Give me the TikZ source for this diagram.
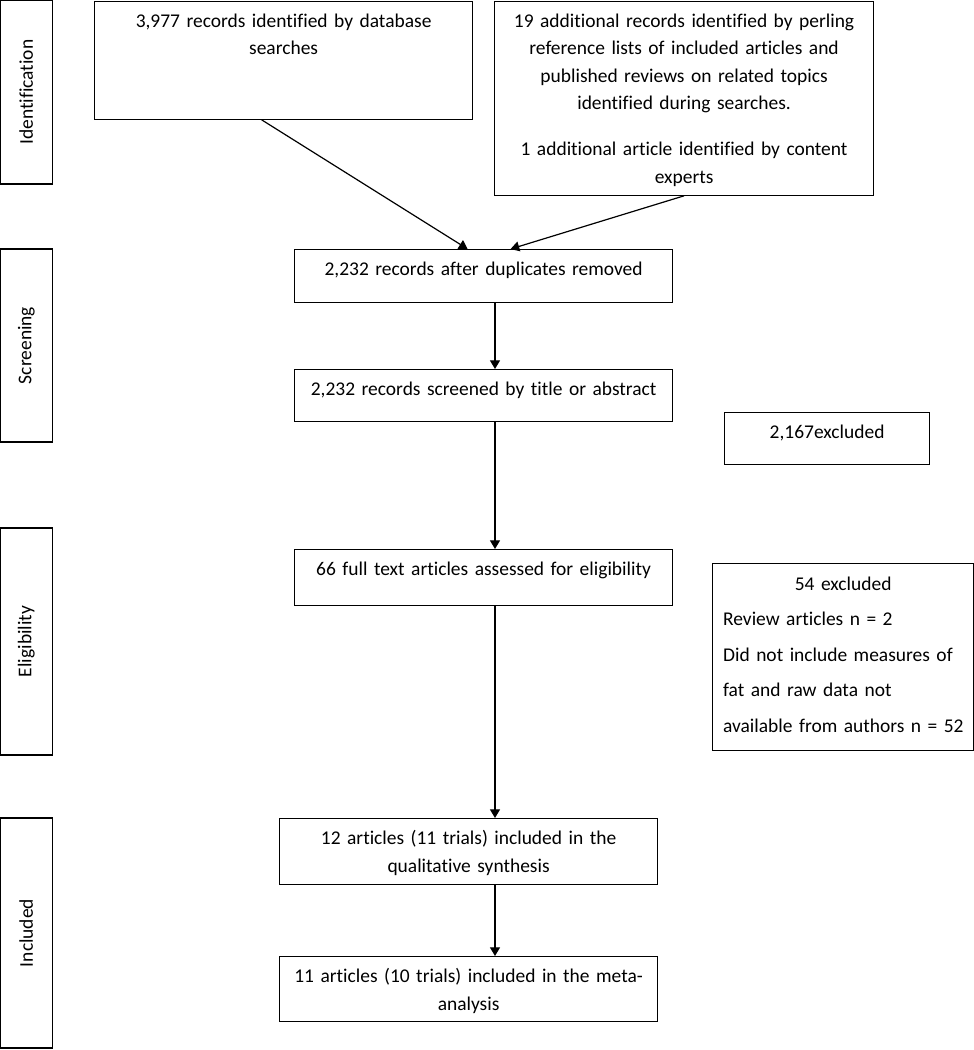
\documentclass[tikz,border=0pt]{standalone}
\usepackage{fontspec}
\setmainfont{Carlito}[Ligatures=NoCommon]
\usetikzlibrary{arrows.meta,positioning}
\tikzset{
  box/.style 2 args={draw, line width=0.9pt, inner xsep=0pt, inner ysep=0pt,
    anchor=north west, align=center, text width=#1, text height=19.5pt, text depth=#2,
    font=\fontsize{14.6pt}{20.6pt}\selectfont},
  phase/.style={draw, line width=0.9pt, rotate=90, inner sep=0pt,
    minimum height=39pt, font=\fontsize{14.6pt}{20.6pt}\selectfont},
  flow/.style={line width=0.9pt, -{Triangle[length=6.5pt,width=7.5pt]}}
}
\begin{document}
\begin{tikzpicture}[x=0.75pt,y=-0.75pt]
\useasboundingbox (0,0) rectangle (974,1050);

%% phases
\node[phase, minimum width=138pt] (Ident) at (26.3,92) {Identification};
\node[phase, minimum width=144.75pt] (Scr) at (26.3,345.5) {Screening};
\node[phase, minimum width=170.25pt] (Elig) at (26.3,641.5) {Eligibility};
\node[phase, minimum width=172.5pt] (Incl) at (26.3,933) {Included};

%% identification
\node[box={283.5pt}{69pt}] (Search) at (94,0.6) {3,977 records identified by database\\ searches};
\node[box={284.25pt}{126pt}] (Extra) at (494,0.6) {19 additional records identified by perling\\
  reference lists of included articles and\\ published reviews on related topics\\
  identified during searches.\\[13.9pt] 1 additional article identified by content\\ experts};

%% screening
\coordinate (Spine) at (495,0);
\node[box={283.5pt}{20.25pt}] (Dedup) at (294,249) {2,232 records after duplicates removed};
\node[box={283.5pt}{19.5pt}] (Screen) at (294,369) {2,232 records screened by title or abstract};
\node[box={153.75pt}{19.5pt}] (Excl1) at (724,412) {2,167excluded};

%% eligibility
\node[box={283.5pt}{22.5pt}] (Full) at (294,549) {66 full text articles assessed for eligibility};
\node[box={180pt}{120.35pt}, align=left, inner xsep=7.9pt, text height=19.9pt,
  font=\fontsize{14.6pt}{26.7pt}\selectfont] (Excl2) at (712,563)
  {{\centering 54 excluded\par}Review articles n = 2\\ Did not include measures of\\
  fat and raw data not\\ \mbox{available from authors n = 52}};

%% included
\node[box={283.5pt}{30pt}] (Qual) at (279,818) {12 articles (11 trials) included in the\\ qualitative synthesis};
\node[box={283.5pt}{29.25pt}] (Meta) at (279,956) {11 articles (10 trials) included in the meta-\\ analysis};

%% flow
\draw[flow] ([xshift=-16.5pt]Search.south) -- ([xshift=-12pt]Dedup.north);
\draw[flow] (Extra.south) -- ([xshift=20.25pt]Dedup.north);
\draw[flow] (Dedup.south -| Spine) -- (Screen.north -| Spine);
\draw[flow] (Screen.south -| Spine) -- (Full.north -| Spine);
\draw[flow] (Full.south -| Spine) -- (Qual.north -| Spine);
\draw[flow] (Qual.south -| Spine) -- (Meta.north -| Spine);

\end{tikzpicture}
\end{document}
